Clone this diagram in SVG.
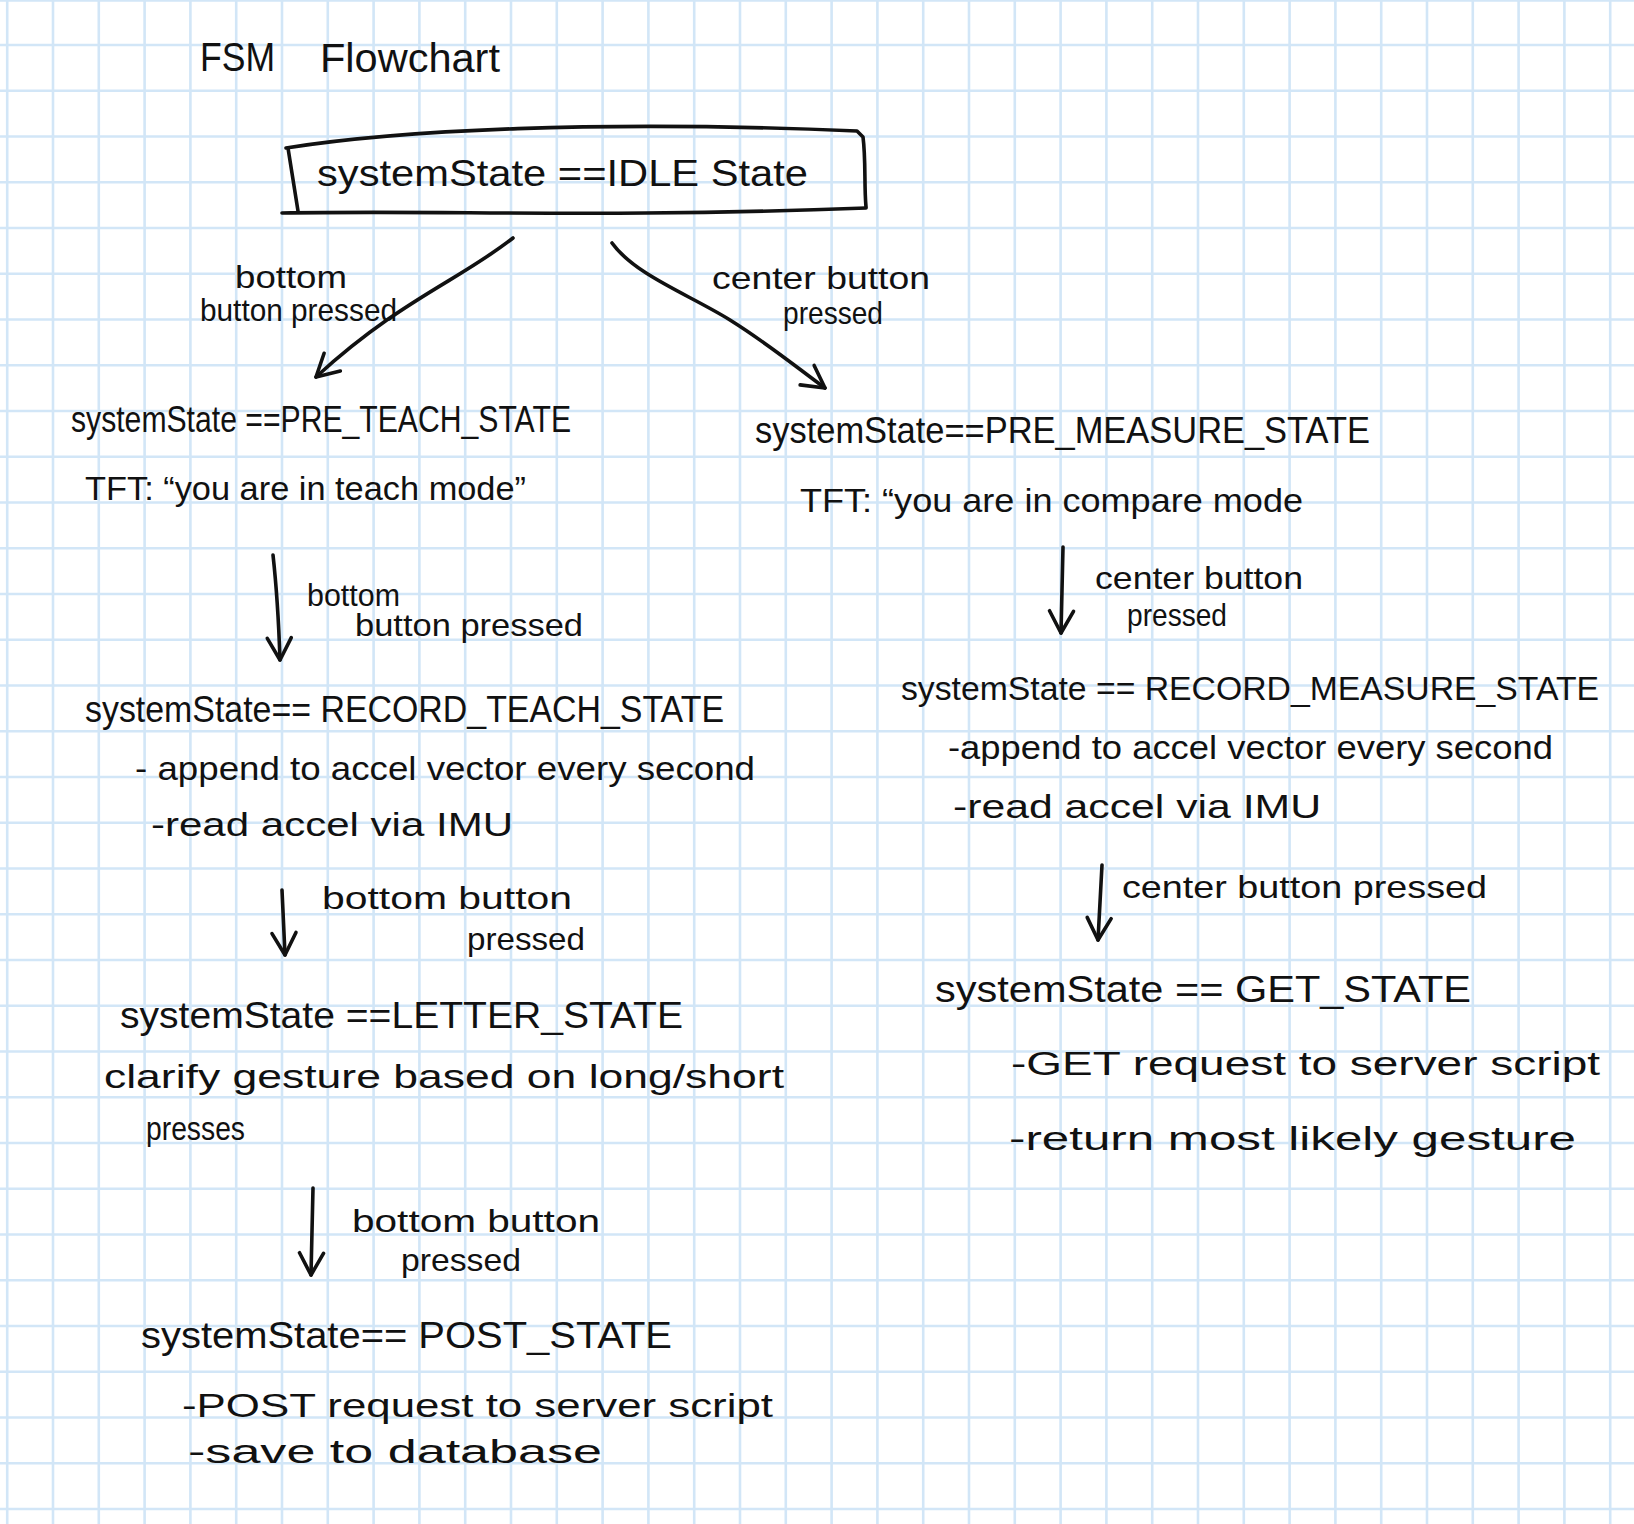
<svg xmlns="http://www.w3.org/2000/svg" width="1634" height="1524" viewBox="0 0 1634 1524">
<defs>
<style>
.grid{stroke:#d2e6f7;stroke-width:2.6;fill:none}
.ink{stroke:#111;stroke-width:3.6;fill:none;stroke-linecap:round;stroke-linejoin:round}
text{font-family:"Liberation Sans","DejaVu Sans",sans-serif;fill:#111}
.st{font-size:36px}
.ds{font-size:34px}
.lb{font-size:32px}
.tt{font-size:40px}
</style>
<marker id="head" markerUnits="userSpaceOnUse" markerWidth="40" markerHeight="40" viewBox="-30 -20 40 40" refX="0" refY="0" orient="auto" overflow="visible">
<path d="M-22,-12 L0,0 L-22,12" fill="none" stroke="#111" stroke-width="3.6" stroke-linecap="round" stroke-linejoin="round"/>
</marker>
</defs>
<rect x="0" y="0" width="1634" height="1524" fill="#ffffff"/>
<path class="grid" d="M7.2 0V1524M53 0V1524M98.8 0V1524M144.6 0V1524M190.4 0V1524M236.2 0V1524M282 0V1524M327.8 0V1524M373.6 0V1524M419.4 0V1524M465.2 0V1524M511 0V1524M556.8 0V1524M602.6 0V1524M648.4 0V1524M694.2 0V1524M740 0V1524M785.8 0V1524M831.6 0V1524M877.4 0V1524M923.2 0V1524M969 0V1524M1014.8 0V1524M1060.6 0V1524M1106.4 0V1524M1152.2 0V1524M1198 0V1524M1243.8 0V1524M1289.6 0V1524M1335.4 0V1524M1381.2 0V1524M1427 0V1524M1472.8 0V1524M1518.6 0V1524M1564.4 0V1524M1610.2 0V1524M0 0.5H1634M0 45H1634M0 90.75H1634M0 136.5H1634M0 182.25H1634M0 228H1634M0 273.75H1634M0 319.5H1634M0 365.25H1634M0 411H1634M0 456.75H1634M0 502.5H1634M0 548.25H1634M0 594H1634M0 639.75H1634M0 685.5H1634M0 731.25H1634M0 777H1634M0 822.75H1634M0 868.5H1634M0 914.25H1634M0 960H1634M0 1005.75H1634M0 1051.5H1634M0 1097.25H1634M0 1143H1634M0 1188.75H1634M0 1234.5H1634M0 1280.25H1634M0 1326H1634M0 1371.75H1634M0 1417.5H1634M0 1463.25H1634M0 1509H1634"/>

<g id="title">
<text class="tt" x="200" y="71" textLength="75" lengthAdjust="spacingAndGlyphs">FSM</text>
<text class="tt" x="320" y="72" textLength="180" lengthAdjust="spacingAndGlyphs">Flowchart</text>
</g>

<g id="node-idle">
<path class="ink" d="M286 148 C400 130, 600 120, 857 131 L863 137 C866 160, 864 185, 866 207"/>
<path class="ink" d="M288 148 L298 211"/>
<path class="ink" d="M282 213 C450 210, 600 218, 866 208"/>
<text class="st" x="317" y="186" textLength="491" lengthAdjust="spacingAndGlyphs">systemState ==IDLE State</text>
</g>

<g id="node-pre-teach">
<text class="st" x="71" y="432" textLength="500" lengthAdjust="spacingAndGlyphs">systemState ==PRE_TEACH_STATE</text>
<text class="ds" x="85" y="500" textLength="441" lengthAdjust="spacingAndGlyphs">TFT: “you are in teach mode”</text>
</g>

<g id="node-pre-measure">
<text class="st" x="755" y="443" textLength="615" lengthAdjust="spacingAndGlyphs">systemState==PRE_MEASURE_STATE</text>
<text class="ds" x="800" y="512" textLength="503" lengthAdjust="spacingAndGlyphs">TFT: “you are in compare mode</text>
</g>

<g id="node-record-teach">
<text class="st" x="85" y="722" textLength="639" lengthAdjust="spacingAndGlyphs">systemState== RECORD_TEACH_STATE</text>
<text class="ds" x="135" y="780" textLength="620" lengthAdjust="spacingAndGlyphs">- append to accel vector every second</text>
<text class="ds" x="151" y="836" textLength="362" lengthAdjust="spacingAndGlyphs">-read accel via IMU</text>
</g>

<g id="node-record-measure">
<text class="ds" x="901" y="700" textLength="698" lengthAdjust="spacingAndGlyphs">systemState == RECORD_MEASURE_STATE</text>
<text class="ds" x="948" y="759" textLength="605" lengthAdjust="spacingAndGlyphs">-append to accel vector every second</text>
<text class="ds" x="953" y="818" textLength="368" lengthAdjust="spacingAndGlyphs">-read accel via IMU</text>
</g>

<g id="node-letter">
<text class="st" x="120" y="1028" textLength="563" lengthAdjust="spacingAndGlyphs">systemState ==LETTER_STATE</text>
<text class="ds" x="104" y="1088" textLength="680" lengthAdjust="spacingAndGlyphs">clarify gesture based on long/short</text>
<text class="ds" x="146" y="1140" textLength="99" lengthAdjust="spacingAndGlyphs">presses</text>
</g>

<g id="node-get">
<text class="st" x="935" y="1002" textLength="536" lengthAdjust="spacingAndGlyphs">systemState == GET_STATE</text>
<text class="ds" x="1011" y="1075" textLength="589" lengthAdjust="spacingAndGlyphs">-GET request to server script</text>
<text class="ds" x="1009" y="1150" textLength="567" lengthAdjust="spacingAndGlyphs">-return most likely gesture</text>
</g>

<g id="node-post">
<text class="st" x="141" y="1348" textLength="531" lengthAdjust="spacingAndGlyphs">systemState== POST_STATE</text>
<text class="ds" x="182" y="1417" textLength="591" lengthAdjust="spacingAndGlyphs">-POST request to server script</text>
<text class="ds" x="188" y="1463" textLength="414" lengthAdjust="spacingAndGlyphs">-save to database</text>
</g>

<g id="connectors">
<g id="edge-idle-preteach">
<path class="ink" d="M513 238 C460 280, 400 300, 316 377" marker-end="url(#head)"/>
<text class="lb" x="235" y="288" textLength="112" lengthAdjust="spacingAndGlyphs">bottom</text>
<text class="lb" x="200" y="321" textLength="197" lengthAdjust="spacingAndGlyphs">button pressed</text>
</g>
<g id="edge-idle-premeasure">
<path class="ink" d="M612 243 C635 275, 690 295, 730 320 C770 345, 800 370, 825 388" marker-end="url(#head)"/>
<text class="lb" x="712" y="289" textLength="218" lengthAdjust="spacingAndGlyphs">center button</text>
<text class="lb" x="783" y="324" textLength="100" lengthAdjust="spacingAndGlyphs">pressed</text>
</g>
<g id="edge-preteach-recordteach">
<path class="ink" d="M273 555 Q278 600 280 660" marker-end="url(#head)"/>
<text class="lb" x="307" y="606" textLength="93" lengthAdjust="spacingAndGlyphs">bottom</text>
<text class="lb" x="355" y="636" textLength="228" lengthAdjust="spacingAndGlyphs">button pressed</text>
</g>
<g id="edge-premeasure-recordmeasure">
<path class="ink" d="M1063 547 L1061 633" marker-end="url(#head)"/>
<text class="lb" x="1095" y="589" textLength="208" lengthAdjust="spacingAndGlyphs">center button</text>
<text class="lb" x="1127" y="626" textLength="100" lengthAdjust="spacingAndGlyphs">pressed</text>
</g>
<g id="edge-recordteach-letter">
<path class="ink" d="M282 890 L285 955" marker-end="url(#head)"/>
<text class="lb" x="322" y="909" textLength="250" lengthAdjust="spacingAndGlyphs">bottom button</text>
<text class="lb" x="467" y="950" textLength="118" lengthAdjust="spacingAndGlyphs">pressed</text>
</g>
<g id="edge-recordmeasure-get">
<path class="ink" d="M1102 865 L1098 940" marker-end="url(#head)"/>
<text class="lb" x="1122" y="898" textLength="365" lengthAdjust="spacingAndGlyphs">center button pressed</text>
</g>
<g id="edge-letter-post">
<path class="ink" d="M313 1188 L311 1275" marker-end="url(#head)"/>
<text class="lb" x="352" y="1232" textLength="248" lengthAdjust="spacingAndGlyphs">bottom button</text>
<text class="lb" x="401" y="1271" textLength="120" lengthAdjust="spacingAndGlyphs">pressed</text>
</g>
</g>
</svg>
